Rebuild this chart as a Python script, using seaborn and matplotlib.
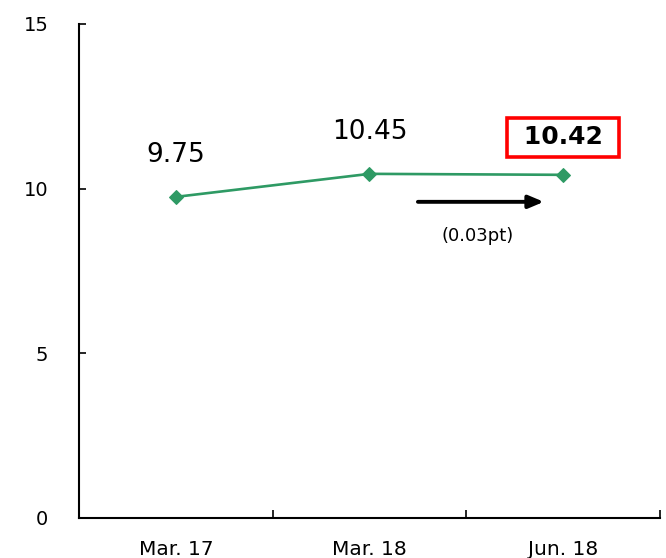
import matplotlib
matplotlib.use("Agg")
import matplotlib.pyplot as plt
import seaborn as sns
import pandas as pd

# Ratio by period
periods = ["Mar. 17", "Mar. 18", "Jun. 18"]
ratios = [9.75, 10.45, 10.42]
change_label = "(0.03pt)"
y_ticks = [0, 5, 10, 15]

sns.set_style("white")
plt.rcParams["font.family"] = ["DejaVu Sans"]

df = pd.DataFrame({"period": periods, "ratio": ratios})

fig = plt.figure(figsize=(6.66, 5.58), dpi=100)
ax = fig.add_axes([0.1186, 0.0717, 0.8724, 0.8853])

green = "#2e9a64"
sns.lineplot(data=df, x="period", y="ratio", ax=ax, color=green,
             linewidth=1.9, marker="D", markersize=7,
             markeredgecolor=green, sort=False)

ax.set_xlim(-0.5, len(periods) - 0.5)
ax.set_ylim(0, 15)
ax.set_yticks(y_ticks)
ax.set_yticklabels([str(t) for t in y_ticks])
ax.set_xticks(range(len(periods)))
ax.set_xticklabels(periods)
ax.set_xticks([i + 0.5 for i in range(len(periods))], minor=True)
ax.set_xlabel("")
ax.set_ylabel("")

for side in ["top", "right"]:
    ax.spines[side].set_visible(False)
for side in ["left", "bottom"]:
    ax.spines[side].set_color("black")
    ax.spines[side].set_linewidth(1.5)

ax.tick_params(axis="y", direction="in", length=5, width=1.2,
               labelsize=14, pad=22, colors="black", left=True)
ax.tick_params(axis="x", which="major", length=0, labelsize=14.5, pad=16,
               colors="black")
ax.tick_params(axis="x", which="minor", direction="in", length=6,
               width=1.2, color="black", bottom=True)

# Value labels
for i, v in enumerate(ratios[:-1]):
    ax.annotate(f"{v:.2f}", xy=(i, v), xytext=(0, 30),
                textcoords="offset points", ha="center", va="center",
                fontsize=19, color="black")

last = len(ratios) - 1
ax.annotate(f" {ratios[last]:.2f} ", xy=(last, ratios[last]), xytext=(0, 27),
            textcoords="offset points", ha="center", va="center",
            fontsize=18, fontweight="bold", color="black",
            bbox=dict(boxstyle="square,pad=0.3", facecolor="white",
                      edgecolor="#ff0000", linewidth=2.6))

# Change arrow
ax.annotate("", xy=(1.9, 9.6), xytext=(1.25, 9.6),
            arrowprops=dict(arrowstyle="-|>,head_length=0.9,head_width=0.38",
                        color="black", lw=2.8, shrinkA=0, shrinkB=0))
ax.text(1.56, 8.55, change_label, ha="center", va="center", fontsize=13,
        color="black")

fig.savefig("out.png", dpi=100)
